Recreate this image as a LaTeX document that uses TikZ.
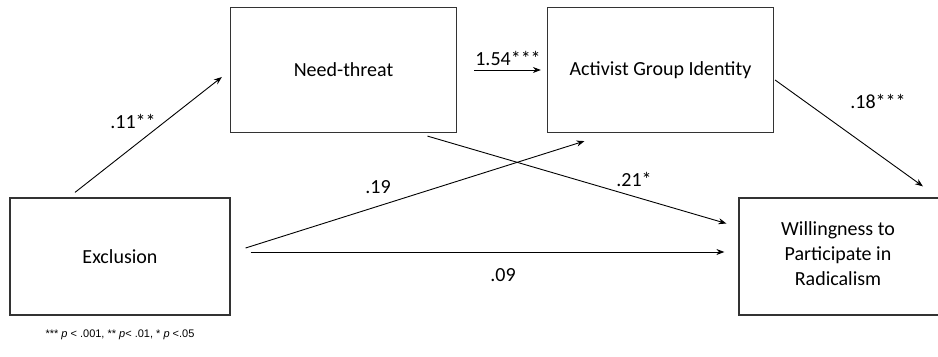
\documentclass[tikz,border=0pt]{standalone}
\usepackage{fontspec}
\setmainfont{Carlito}
\newfontfamily\notefont{Liberation Sans}
\usetikzlibrary{arrows.meta}
\tikzset{
  varbox/.style={draw=black!80,line width=0.6pt,minimum width=113pt,minimum height=62.5pt,align=center,font=\fontsize{10}{12.5}\selectfont},
  path/.style={line width=0.45pt,-{Stealth[length=4pt,width=3pt]}},
  coef/.style={font=\fontsize{10}{12}\selectfont,inner sep=0pt}
}
\begin{document}
\begin{tikzpicture}[x=0.5pt,y=-0.5pt]
\useasboundingbox(0,0)rectangle(938,357);
\clip(0,0)rectangle(938,357);
%boxes
\node[varbox](need)at(343.5,70){Need-threat};
\node[varbox](act)at(660.5,70){Activist Group Identity};
\node[varbox,minimum width=110pt,minimum height=58.5pt](excl)at(120,256.5){Exclusion};
\node[varbox,minimum width=120pt,minimum height=58.5pt](will)at(859,256.5){};
\node[varbox,draw=none](willtext)at(838,254){Willingness to\\Participate in\\Radicalism};
%paths
\draw[path]([xshift=-22.5pt,yshift=2.5pt]excl.north)--([xshift=-4pt,yshift=-3.5pt]need.west);
\draw[path]([xshift=8.5pt]need.east)--([xshift=-3pt]act.west);
\draw[path]([xshift=0.5pt,yshift=-5pt]act.east)--([xshift=32pt,yshift=5.5pt]will.north);
\draw[path]([xshift=42pt,yshift=-1.5pt]need.south)--([xshift=-6pt,yshift=16.5pt]will.west);
\draw[path]([xshift=7.5pt,yshift=4.25pt]excl.east)--([xshift=-38pt,yshift=-4pt]act.south);
\draw[path]([xshift=10pt,yshift=2.25pt]excl.east)--([xshift=-7pt,yshift=2.25pt]will.west);
%coefficients
\node[coef](c11)at(133,121){.11**};
\node[coef](c154)at(508,58){1.54***};
\node[coef](c18)at(878,101){.18***};
\node[coef](c21)at(634,179){.21*};
\node[coef](c19)at(378,187){.19};
\node[coef](c09)at(503,275){.09};
%note
\node[font=\notefont\fontsize{5.5}{6}\selectfont,inner sep=0pt](note)at(120,335){*** \textit{p} < .001, ** \textit{p}< .01, * \textit{p} <.05};
\end{tikzpicture}
\end{document}
